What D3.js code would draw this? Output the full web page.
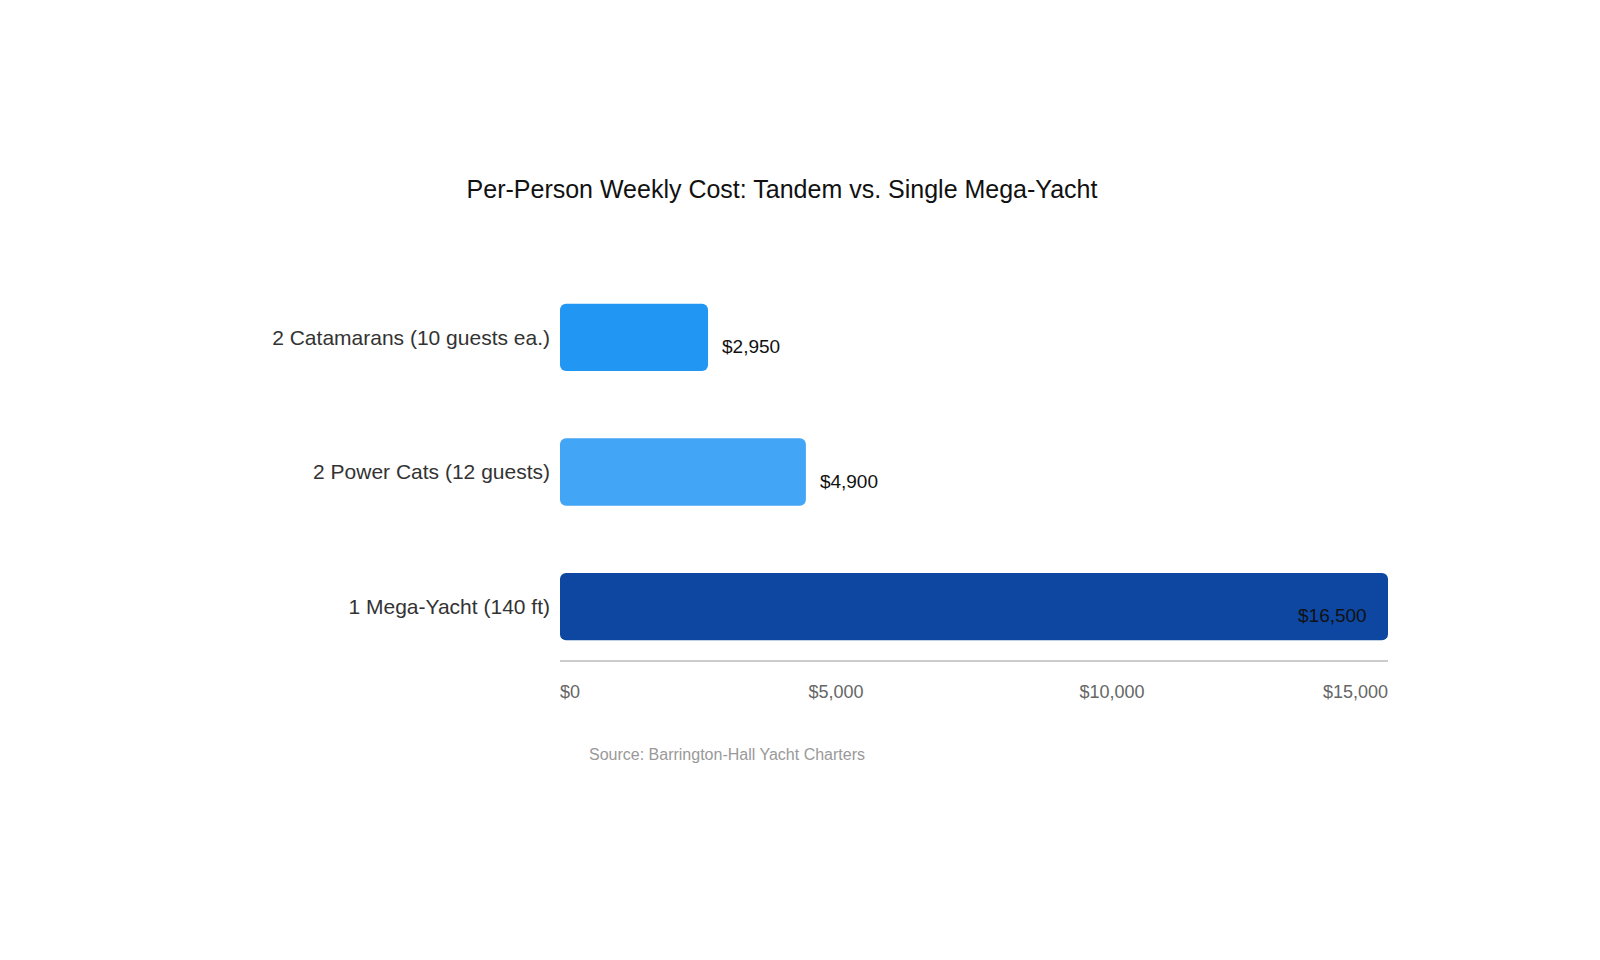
<!DOCTYPE html>
<html>
<head>
<meta charset="utf-8">
<script src="https://cdn.jsdelivr.net/npm/d3@7"></script>
<style>
  body { margin: 0; background: #fff; }
  text { font-family: "Liberation Sans", Arial, sans-serif; }
</style>
</head>
<body>
<div id="chart"></div>
<script>
// data
var categories = ['2 Catamarans (10 guests ea.)', '2 Power Cats (12 guests)', '1 Mega-Yacht (140 ft)'];
var values = [2950, 4900, 16500];
var colors = ['#2196F3', '#42A5F5', '#0D47A1'];
var tickLabels = ['$0', '$5,000', '$10,000', '$15,000'];

var svgWidth = 1600, svgHeight = 960;
var margin = { top: 270, left: 560, right: 212 };
var width = svgWidth - margin.left - margin.right;

var svg = d3.select('#chart').append('svg')
    .attr('width', svgWidth)
    .attr('height', svgHeight);

svg.append('text')
    .attr('x', 782).attr('y', 198)
    .attr('text-anchor', 'middle')
    .attr('font-size', 25).attr('fill', '#111')
    .text('Per-Person Weekly Cost: Tandem vs. Single Mega-Yacht');

var x = d3.scaleLinear().domain([0, d3.max(values)]).range([0, width]);
var y = d3.scaleBand().domain(categories).range([0, 404]).paddingInner(0.5).paddingOuter(0.25);

var g = svg.append('g').attr('transform', `translate(${margin.left}, ${margin.top})`);

g.selectAll('rect.bar').data(values).enter().append('rect')
    .attr('x', 0)
    .attr('y', (d, i) => y(categories[i]))
    .attr('width', d => x(d))
    .attr('height', y.bandwidth())
    .attr('rx', 6)
    .attr('fill', (d, i) => colors[i]);

g.selectAll('text.cat').data(categories).enter().append('text')
    .attr('x', -10)
    .attr('y', d => y(d) + y.bandwidth() / 2)
    .attr('dy', '0.35em')
    .attr('text-anchor', 'end')
    .attr('font-size', 21).attr('fill', '#333')
    .text(d => d);

g.selectAll('text.val').data(values).enter().append('text')
    .attr('x', d => Math.min(x(d) + 14, width - 90))
    .attr('y', (d, i) => y(categories[i]) + y.bandwidth() / 2 + 9)
    .attr('dy', '0.35em')
    .attr('font-size', 19).attr('fill', '#111')
    .text(d => '$' + d3.format(',')(d));

// axis
var axisY = 391;
g.append('line')
    .attr('x1', 0).attr('x2', width)
    .attr('y1', axisY).attr('y2', axisY)
    .attr('stroke', '#ccc').attr('stroke-width', 2);

var tx = d3.scalePoint().domain(tickLabels).range([0, width]);
g.selectAll('text.tick').data(tickLabels).enter().append('text')
    .attr('x', d => tx(d))
    .attr('y', axisY + 37)
    .attr('text-anchor', (d, i) => i === 0 ? 'start' : (i === tickLabels.length - 1 ? 'end' : 'middle'))
    .attr('font-size', 18).attr('fill', '#666')
    .text(d => d);

svg.append('text')
    .attr('x', 589).attr('y', 760)
    .attr('font-size', 16).attr('fill', '#999')
    .text('Source: Barrington-Hall Yacht Charters');
</script>
</body>
</html>
